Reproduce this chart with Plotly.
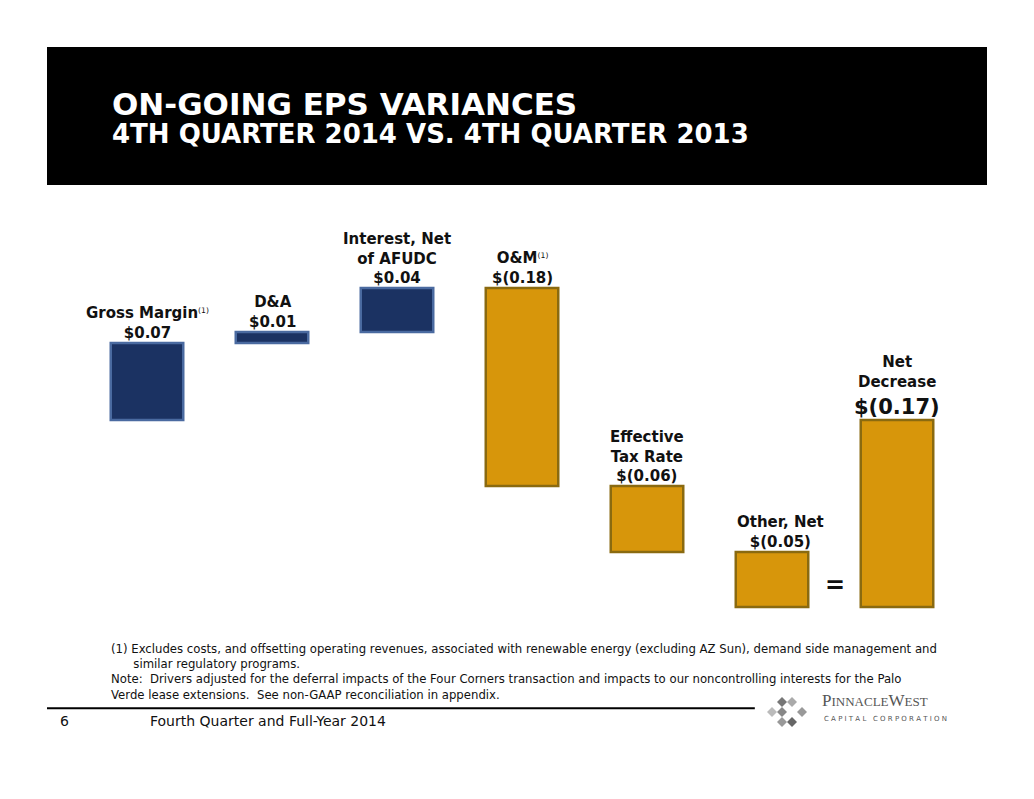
import plotly.graph_objects as go

categories = ["Gross Margin", "D&A", "Interest, Net of AFUDC", "O&M", "Effective Tax Rate", "Other, Net", "Net Decrease"]
values = [0.07, 0.01, 0.04, -0.18, -0.06, -0.05, -0.17]
labels = ["Gross Margin<span style='font-size:11px;font-weight:normal'><sup>(1)</sup></span><br>$0.07",
          "D&A<br>$0.01",
          "Interest, Net<br>of AFUDC<br>$0.04",
          "O&M<span style='font-size:11px;font-weight:normal'><sup>(1)</sup></span><br>$(0.18)",
          "Effective<br>Tax Rate<br>$(0.06)",
          "Other, Net<br>$(0.05)",
          "$(0.17)"]

navy, navy_edge = "#1b3262", "#4a6aa0"
gold, gold_edge = "#d7960b", "#8a6a10"

bases, tops = [], []
cum = 0.0
for i, v in enumerate(values):
    if i == len(values) - 1:
        b = 0.0
    else:
        b = cum
        cum += v
    bases.append(b)
    tops.append(max(b, b + v))

x = list(range(len(categories)))
colors = [navy if v > 0 else gold for v in values]
edges = [navy_edge if v > 0 else gold_edge for v in values]

fig = go.Figure(go.Bar(x=x, y=values, base=bases, width=0.58,
                       marker=dict(color=colors, line=dict(color=edges, width=2.5)),
                       hoverinfo="skip"))

font = dict(family="DejaVu Sans", size=15, color="#111111")
for i, t in enumerate(labels):
    f = dict(font)
    if i == 6:
        f["size"] = 21
    fig.add_annotation(x=i + (0.07 if i == 5 else 0), y=tops[i], text="<b>" + t + "</b>", showarrow=False,
                       yanchor="bottom", yshift=-1, font=f, align="center")
fig.add_annotation(x=6, y=tops[6], text="<b>Net<br>Decrease</b>", showarrow=False,
                   yanchor="bottom", yshift=27, font=font, align="center")
fig.add_annotation(x=5.5, y=-0.15, text="<b>=</b>", showarrow=False, font=dict(family="DejaVu Sans", size=24, color="#111"))

# title box
fig.add_shape(type="rect", xref="paper", yref="paper", x0=0, x1=1, y0=1.036, y1=1.364,
              fillcolor="black", line=dict(width=0), layer="below")
fig.add_annotation(xref="paper", yref="paper", x=0.067, y=1.229, xanchor="left", yanchor="middle", showarrow=False,
                   text="<b>ON-GOING EPS VARIANCES</b>", font=dict(family="DejaVu Sans", size=31, color="white"))
fig.add_annotation(xref="paper", yref="paper", x=0.067, y=1.157, xanchor="left", yanchor="middle", showarrow=False,
                   text="<b>4TH QUARTER 2014 VS. 4TH QUARTER 2013</b>", font=dict(family="DejaVu Sans", size=26, color="white"))

# footnotes
fn = ("(1) Excludes costs, and offsetting operating revenues, associated with renewable energy (excluding AZ Sun), demand side management and<br>"
      "      similar regulatory programs.<br>"
      "Note:  Drivers adjusted for the deferral impacts of the Four Corners transaction and impacts to our noncontrolling interests for the Palo<br>"
      "Verde lease extensions.  See non-GAAP reconciliation in appendix.")
fig.add_annotation(xref="paper", yref="paper", x=0.066, y=-0.047, xanchor="left", yanchor="top", showarrow=False,
                   align="left", text=fn, font=dict(family="DejaVu Sans", size=11.7, color="#111"))
fig.add_shape(type="line", xref="paper", yref="paper", x0=0, x1=0.753, y0=-0.210, y1=-0.210,
              line=dict(color="black", width=2))
fig.add_annotation(xref="paper", yref="paper", x=0.012, y=-0.264, xanchor="left", showarrow=False,
                   text="6", font=dict(family="DejaVu Sans", size=14, color="#111"))
fig.add_annotation(xref="paper", yref="paper", x=0.107, y=-0.264, xanchor="left", showarrow=False,
                   text="Fourth Quarter and Full-Year 2014", font=dict(family="DejaVu Sans", size=14, color="#111"))
# logo
fig.add_annotation(xref="paper", yref="paper", x=0.822, y=-0.218, xanchor="left", showarrow=False,
                   text="P<span style='font-size:13px'>INNACLE</span>W<span style='font-size:13px'>EST</span>",
                   font=dict(family="Liberation Serif", size=17, color="#555"))
fig.add_annotation(xref="paper", yref="paper", x=0.824, y=-0.25, xanchor="left", showarrow=False,
                   text="C A P I T A L   C O R P O R A T I O N", font=dict(family="DejaVu Sans", size=7, color="#555"))
for (px, py, c) in [(782, 712, "#888"), (792, 702, "#aaa"), (792, 722, "#666"), (802, 712, "#999"), (772, 712, "#bbb"), (782, 702, "#777"), (782, 722, "#999")]:
    fig.add_shape(type="path", xref="paper", yref="paper",
                  path="M {0},{1} L {2},{3} L {0},{4} L {5},{3} Z".format(
                      (px - 47) / 940, (620 - py + 5) / 420, (px + 5 - 47) / 940, (620 - py) / 420,
                      (620 - py - 5) / 420, (px - 5 - 47) / 940),
                  fillcolor=c, line=dict(width=0))

fig.update_layout(width=1034, height=799, margin=dict(l=39, r=55, t=192, b=187),
                  paper_bgcolor="white", plot_bgcolor="white", showlegend=False,
                  xaxis=dict(range=[-0.8, 6.72], visible=False),
                  yaxis=dict(range=[-0.1818, 0.2], visible=False))
fig.write_html("out.html")
